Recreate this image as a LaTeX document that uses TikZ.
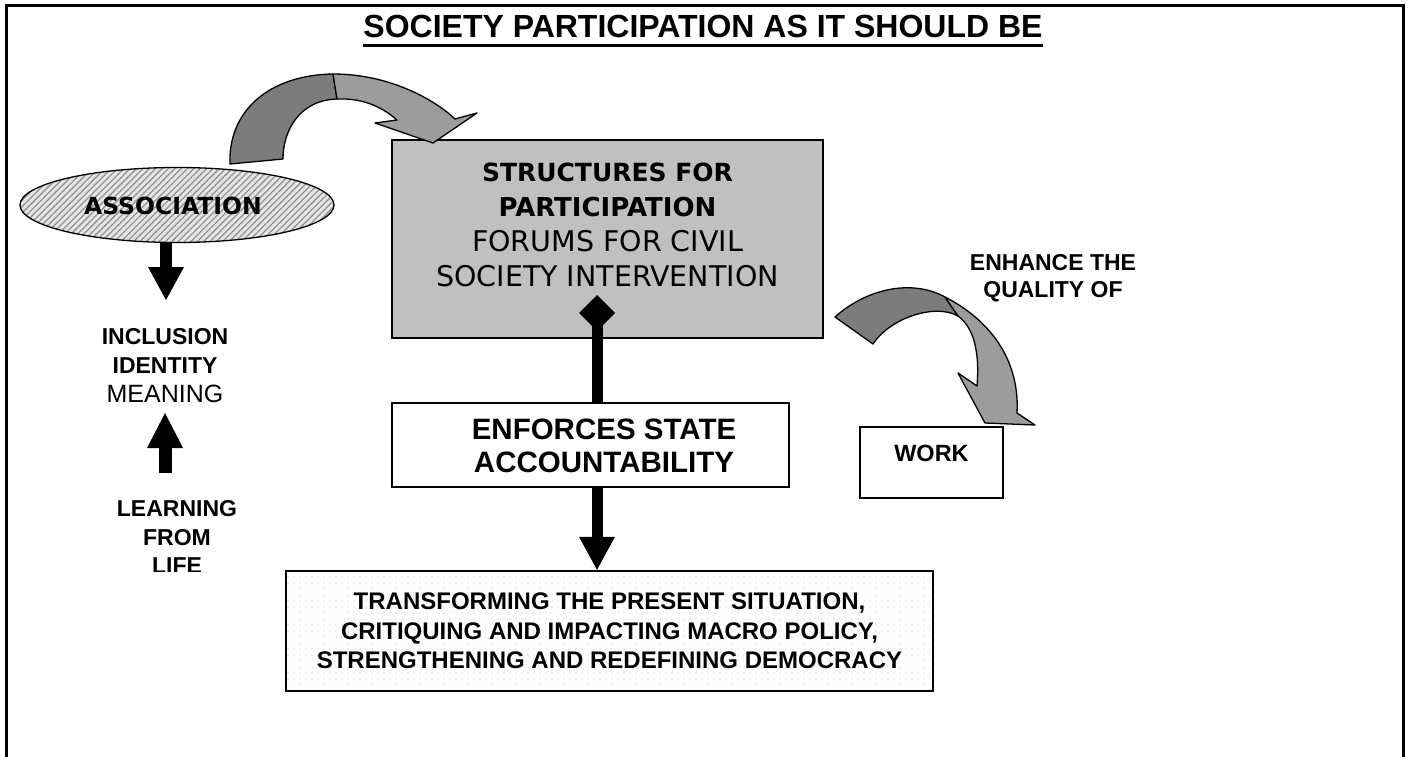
\documentclass[tikz,border=0pt]{standalone}
\usepackage{fontspec}
\setmainfont{Liberation Sans}
\newfontfamily\comic{DejaVu Sans}
\usetikzlibrary{arrows.meta,patterns,patterns.meta,shapes.geometric}
\definecolor{boxgray}{HTML}{C0C0C0}
\definecolor{darkarrow}{HTML}{7C7C7C}
\definecolor{lightarrow}{HTML}{9C9C9C}
\begin{document}
\begin{tikzpicture}[x=1pt,y=-1pt,
  blkshaft/.style={line width=#1, draw=black},
  curvedark/.style={fill=darkarrow, draw=black, line width=1.3, line join=round},
  curvelight/.style={fill=lightarrow, draw=black, line width=1.3, line join=round},
  tri/.style={-{Triangle[length=#1,width=36pt,line width=0pt 0 0]}},
]
\useasboundingbox (0,0) rectangle (1409,757);
% frame
\draw[line width=3] (6,757) -- (6,6) -- (1403,6) -- (1403,757);

% title
\node[anchor=base, inner sep=0, font=\fontsize{32}{38}\selectfont\bfseries] (title) at (703,38) {SOCIETY PARTICIPATION AS IT SHOULD BE};
\draw[line width=2.6] ([yshift=-7.5pt]title.base west) -- ([yshift=-7.5pt]title.base east);

% association ellipse
\node[ellipse, draw, line width=1.3, minimum width=314, minimum height=75, inner sep=0,
  preaction={fill=gray!20},
  pattern={Lines[angle=45,distance=4.5pt,line width=1.3pt]}, pattern color=gray!85] (assoc) at (177,205) {};
\node[font=\comic\bfseries\fontsize{23.5}{26}\selectfont] (assoctext) at (173,206) {ASSOCIATION};

% structures box
\node[draw, line width=1.8, fill=boxgray, minimum width=431, minimum height=198, inner sep=0] (struct) at (607.5,239) {};
\node[align=center, font=\comic\fontsize{25}{35}\selectfont] (structtext) at (607.5,225)
  {{\bfseries STRUCTURES FOR}\\{\bfseries\fontsize{26}{35}\selectfont PARTICIPATION}\\{\fontsize{28.5}{36}\selectfont FORUMS FOR CIVIL}\\{\fontsize{28.5}{37}\selectfont SOCIETY INTERVENTION}};

% enforces box
\node[draw, line width=1.8, fill=white, minimum width=397, minimum height=84, inner sep=0] (enf) at (590.5,445) {};
\node[align=center, font=\fontsize{29.5}{33}\selectfont\bfseries] (enftext) at (604,446) {ENFORCES STATE\\ACCOUNTABILITY};

% transforming box
\node[draw, line width=2.4, minimum width=647, minimum height=120, inner sep=0, align=center,
  preaction={fill=white},
  pattern={Dots[distance=6pt,radius=0.6pt]}, pattern color=gray!45,
  font=\fontsize{24}{29.5}\selectfont\bfseries] (trans) at (609.5,631)
  {TRANSFORMING THE PRESENT SITUATION,\\CRITIQUING AND IMPACTING MACRO POLICY,\\STRENGTHENING AND REDEFINING DEMOCRACY};

% work box
\node[draw, line width=1.6, minimum width=143, minimum height=71, inner sep=0,
  text height=17pt, text depth=20pt, font=\fontsize{23.5}{28}\selectfont\bfseries] (work) at (931.5,462.5) {WORK};

% left texts
\node[align=center, font=\fontsize{23}{29}\selectfont] (incl) at (165,366)
  {{\bfseries INCLUSION}\\{\bfseries IDENTITY}\\{\fontsize{25}{29}\selectfont MEANING}};
\begin{scope}
\clip (0,0) rectangle (1409,571);
\node[align=center, font=\fontsize{23}{28.5}\selectfont\bfseries] (learn) at (177,537) {LEARNING\\FROM\\LIFE};
\end{scope}
\node[align=center, font=\fontsize{23}{27}\selectfont\bfseries] (enh) at (1053,278) {ENHANCE THE\\QUALITY OF};

% black arrows
\coordinate (a1) at (166,300);
\draw[blkshaft=12, tri=33pt] (assoc.south -| a1) -- (a1);
\coordinate (a2) at (165,413);
\coordinate (a3) at (165,473);
\draw[blkshaft=13, tri=35pt] (a3) -- (a2);
\coordinate (d) at (597,295);
\draw[blkshaft=11, -{Diamond[length=36pt,width=36pt,line width=0pt 0 0]}] (enf.north -| d) -- (d);
\draw[blkshaft=11, tri=33pt] (enf.south -| d) -- (trans.north -| d);

% curved arrow: association -> structures
\path[curvedark] (230,164) .. controls (228,110) and (270,75) .. (333,74)
  -- (337,99) .. controls (300,100) and (283,130) .. (283,159) -- cycle;
\path[curvelight] (333,74) .. controls (390,74) and (435,100) .. (455,119)
  -- (477,113) -- (433,143) -- (375,123) -- (397,120)
  .. controls (380,105) and (360,98) .. (337,99) -- cycle;

% curved arrow: structures -> work
\path[curvedark] (835,317) .. controls (865,290) and (910,278) .. (945,297)
  -- (958,316) .. controls (935,303) and (890,318) .. (873,344) -- cycle;
\path[curvelight] (945,297) .. controls (990,320) and (1020,360) .. (1017,413)
  -- (1035,425) -- (985,423) -- (958,373) -- (977,386)
  .. controls (980,350) and (973,327) .. (958,316) -- cycle;
\end{tikzpicture}
\end{document}
